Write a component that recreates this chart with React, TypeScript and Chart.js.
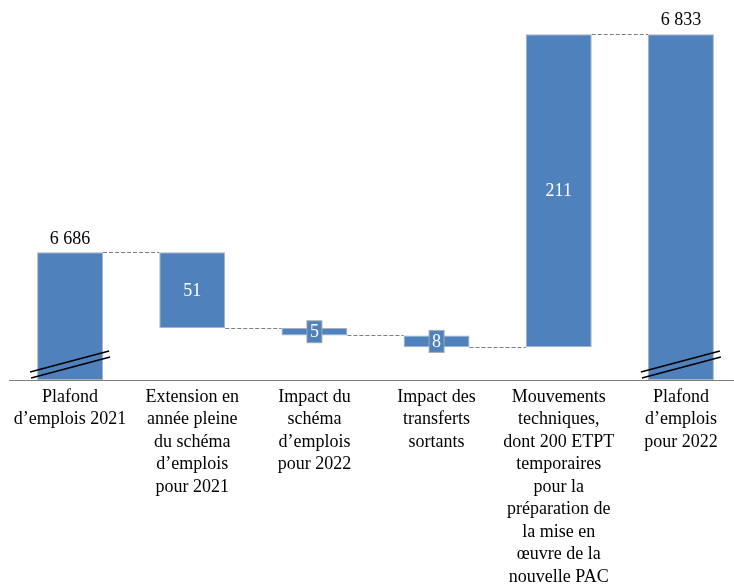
import { useEffect, useRef } from 'react';
import { Chart, registerables } from 'chart.js';

Chart.register(...registerables);

const categories: string[][] = [
  ['Plafond', 'd’emplois 2021'],
  ['Extension en', 'année pleine', 'du schéma', 'd’emplois', 'pour 2021'],
  ['Impact du', 'schéma', 'd’emplois', 'pour 2022'],
  ['Impact des', 'transferts', 'sortants'],
  ['Mouvements', 'techniques,', 'dont 200 ETPT', 'temporaires', 'pour la', 'préparation de', 'la mise en', 'œuvre de la', 'nouvelle PAC'],
  ['Plafond', 'd’emplois', 'pour 2022'],
];
const steps: number[] = [6686, -51, -5, -8, 211, 6833];
const isTotal: boolean[] = [true, false, false, false, false, true];
const valueLabels: string[] = ['6 686', '51', '5', '8', '211', '6 833'];
const axisMin = 6600;
const axisMax = 6856;

const BLUE = '#4F81BD';
const FONT = "'Liberation Serif', 'Times New Roman', serif";

function buildRanges() {
  const ranges: [number, number][] = [];
  const ends: number[] = [];
  let running = axisMin;
  steps.forEach((v, i) => {
    if (isTotal[i]) {
      ranges.push([axisMin, v]);
      running = v;
    } else {
      const next = running + v;
      ranges.push([Math.min(running, next), Math.max(running, next)]);
      running = next;
    }
    ends.push(running);
  });
  return { ranges, ends };
}

export default function App() {
  const ref = useRef<HTMLCanvasElement | null>(null);
  useEffect(() => {
    if (!ref.current) return;
    const { ranges, ends } = buildRanges();
    const overlay = {
      id: 'waterfallOverlay',
      afterDatasetsDraw(chart: any) {
        const ctx = chart.ctx as CanvasRenderingContext2D;
        const meta = chart.getDatasetMeta(0);
        const ys = chart.scales.y;
        const area = chart.chartArea;
        ctx.save();
        // connectors
        ctx.strokeStyle = '#7f7f7f';
        ctx.lineWidth = 1;
        ctx.setLineDash([4, 2]);
        for (let i = 0; i < meta.data.length - 1; i++) {
          const a = meta.data[i] as any;
          const b = meta.data[i + 1] as any;
          const y = Math.round(ys.getPixelForValue(ends[i])) + 0.5;
          ctx.beginPath();
          ctx.moveTo(a.x + a.width / 2, y);
          ctx.lineTo(b.x - b.width / 2, y);
          ctx.stroke();
        }
        ctx.setLineDash([]);
        // break marks on totals
        ctx.strokeStyle = '#000';
        ctx.lineWidth = 1.6;
        meta.data.forEach((el: any, i: number) => {
          if (!isTotal[i]) return;
          const l = el.x - el.width / 2;
          const r = el.x + el.width / 2;
          const bot = area.bottom;
          ctx.beginPath();
          ctx.moveTo(l - 7, bot - 8);
          ctx.lineTo(r + 6, bot - 29);
          ctx.moveTo(l - 6, bot - 2);
          ctx.lineTo(r + 7, bot - 23);
          ctx.stroke();
        });
        // value labels
        ctx.font = `18px ${FONT}`;
        ctx.textAlign = 'center';
        ctx.textBaseline = 'middle';
        meta.data.forEach((el: any, i: number) => {
          const top = Math.min(el.y, el.base);
          const bottom = Math.max(el.y, el.base);
          const txt = valueLabels[i];
          if (isTotal[i]) {
            ctx.fillStyle = '#000';
            ctx.fillText(txt, el.x, top - 13.5);
          } else if (bottom - top > 30) {
            ctx.fillStyle = '#fff';
            ctx.fillText(txt, el.x, (top + bottom) / 2 + 1);
          } else {
            const w = ctx.measureText(txt).width + 6;
            const h = 22;
            const cy = (top + bottom) / 2;
            ctx.fillStyle = BLUE;
            ctx.fillRect(el.x - w / 2, cy - h / 2, w, h);
            ctx.strokeStyle = 'rgba(170,170,170,0.9)';
            ctx.lineWidth = 1;
            ctx.strokeRect(el.x - w / 2, cy - h / 2, w, h);
            ctx.fillStyle = '#fff';
            ctx.fillText(txt, el.x, cy + 1);
          }
        });
        ctx.restore();
      },
    };
    const chart = new Chart(ref.current, {
      type: 'bar',
      data: {
        labels: categories,
        datasets: [
          {
            data: ranges as any,
            backgroundColor: BLUE,
            borderColor: 'rgba(160,170,185,0.9)',
            borderWidth: 1,
            borderSkipped: false,
            barPercentage: 0.54,
            categoryPercentage: 1,
          },
        ],
      },
      options: {
        animation: false,
        responsive: false,
        devicePixelRatio: 1,
        layout: { padding: { left: 9, right: 8, top: 0, bottom: 0 } },
        plugins: { legend: { display: false }, tooltip: { enabled: false } },
        scales: {
          x: {
            grid: { display: false, drawTicks: false },
            border: { display: true, color: '#7f7f7f', width: 1 },
            ticks: {
              color: '#000',
              autoSkip: false,
              maxRotation: 0,
              minRotation: 0,
              padding: 6,
              font: { family: FONT, size: 18, lineHeight: 1.25 },
            },
            afterFit: (scale: any) => {
              scale.height = 207;
            },
          },
          y: { display: false, min: axisMin, max: axisMax },
        },
      },
      plugins: [overlay],
    });
    return () => chart.destroy();
  }, []);
  return (
    <div style={{ position: 'fixed', left: 0, top: 0, width: 750, height: 587, background: '#fff' }}>
      <canvas ref={ref} width={750} height={587} />
    </div>
  );
}
